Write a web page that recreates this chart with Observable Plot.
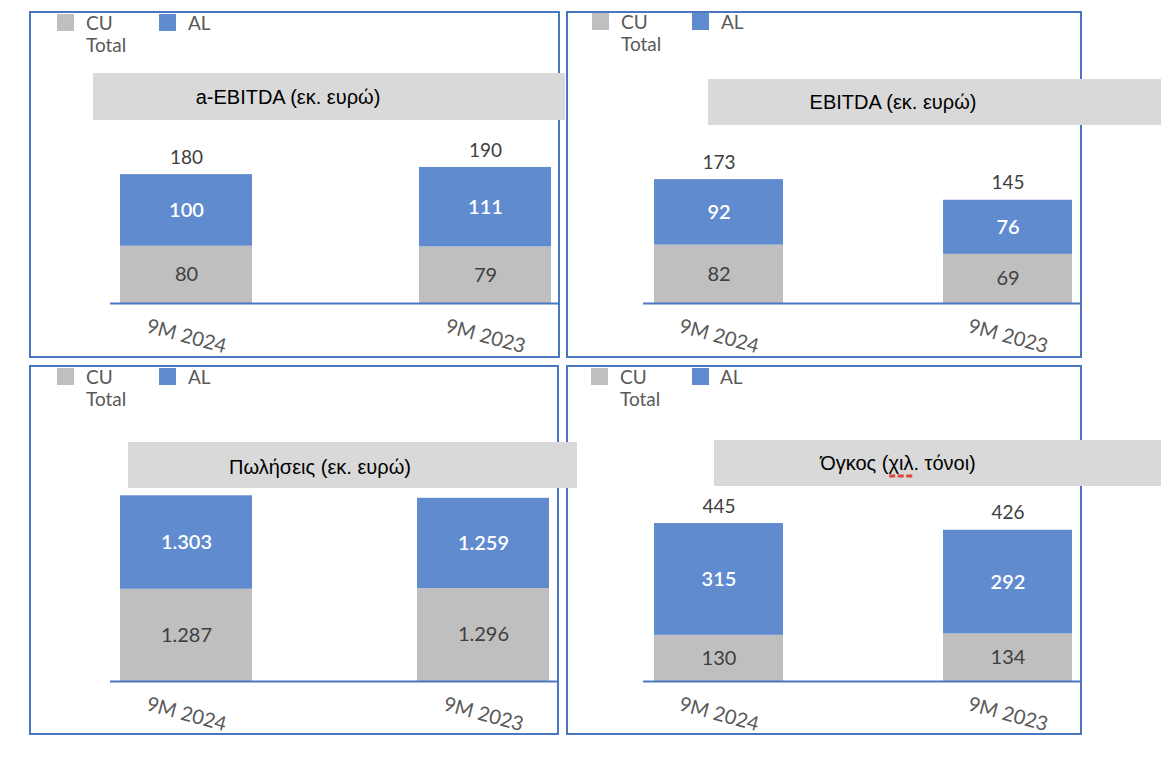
<!DOCTYPE html>
<html>
<head>
<meta charset="utf-8">
<script src="https://cdn.jsdelivr.net/npm/d3@7"></script>
<script src="https://cdn.jsdelivr.net/npm/@observablehq/plot@0.6"></script>
<style>
  html, body { margin: 0; padding: 0; background: #ffffff; }
  #page { position: relative; width: 1161px; height: 771px; overflow: hidden; background: #fff; }
  .frame { position: absolute; box-sizing: border-box; border: 2px solid #4a76c4; }
  .plotwrap { position: absolute; }
  .plotwrap svg { display: block; overflow: visible; }
  .titlebox { position: absolute; background: #d9d9d9; z-index: 5; }
  .titletext { position: absolute; font-family: "Liberation Sans", Arial, sans-serif; font-size: 20px; color: #000; white-space: nowrap; transform: translate(-50%, -50%); }
  .sq { position: absolute; width: 17px; height: 17px; z-index: 6; }
  .lg { position: absolute; font-family: Lato, "Open Sans", sans-serif; font-size: 19px; color: #595959; line-height: 22px; z-index: 6; }
  .squig { position: relative; display: inline-block; }
  .squig::after { content: ""; position: absolute; left: 1px; right: 1px; bottom: -3px; height: 0; border-bottom: 3px dashed #e0463c; }
</style>
</head>
<body>
<div id="page"></div>
<script>
// ---------- data ----------
const periods = ["9M 2024", "9M 2023"];
const series = ["CU", "AL"];
const seriesColors = ["#bfbfbf", "#608bcf"];

const aEbitdaCU = [80, 79];
const aEbitdaAL = [100, 111];
const aEbitdaTotal = [180, 190];

const ebitdaCU = [82, 69];
const ebitdaAL = [92, 76];
const ebitdaTotal = [173, 145];

const salesCU = [1287, 1296];
const salesAL = [1303, 1259];
const salesTotal = [2590, 2555];

const volumeCU = [130, 134];
const volumeAL = [315, 292];
const volumeTotal = [445, 426];

const titles = ["a-EBITDA (εκ. ευρώ)", "EBITDA (εκ. ευρώ)", "Πωλήσεις (εκ. ευρώ)", "Όγκος (χιλ. τόνοι)"];
const legendLabels = ["CU", "Total", "AL"];

// ---------- layout ----------
const fmt = d3.formatLocale({decimal: ",", thousands: ".", grouping: [3], currency: ["", "€"]}).format(",");
const axisColor = "#4a76c4";

const panels = [
  {cu: aEbitdaCU, al: aEbitdaAL, total: aEbitdaTotal, title: titles[0],
   box: {left: 29, top: 11, width: 531, height: 347}, axis: [110, 559], bars: [120, 552], pad: 0.558,
   base: 303, k: 0.716, ymax: 300,
   tbox: {left: 93, top: 73, width: 472, height: 47}, tcenter: [288, 97],
   lg: {sq1: 57, txt1: 86, sq2: 159, txt2: 188, sqTop: 14, txtTop: 12}},
  {cu: ebitdaCU, al: ebitdaAL, total: ebitdaTotal, title: titles[1],
   box: {left: 566, top: 11, width: 516, height: 347}, axis: [643, 1082], bars: [654, 1072], pad: 0.554,
   base: 303, k: 0.712, ymax: 300,
   tbox: {left: 708, top: 79, width: 460, height: 46}, tcenter: [893, 102],
   lg: {sq1: 592, txt1: 621, sq2: 692, txt2: 721, sqTop: 13, txtTop: 11}},
  {cu: salesCU, al: salesAL, total: salesTotal, title: titles[2],
   box: {left: 29, top: 365, width: 530, height: 370}, axis: [110, 558], bars: [120, 550], pad: 0.555,
   base: 681, k: 0.0717, ymax: 3000,
   tbox: {left: 128, top: 442, width: 449, height: 46}, tcenter: [320, 467],
   lg: {sq1: 57, txt1: 86, sq2: 159, txt2: 188, sqTop: 368, txtTop: 366}},
  {cu: volumeCU, al: volumeAL, total: volumeTotal, title: titles[3],
   box: {left: 566, top: 365, width: 516, height: 370}, axis: [643, 1082], bars: [654, 1072], pad: 0.554,
   base: 681, k: 0.355, ymax: 600,
   tbox: {left: 714, top: 440, width: 454, height: 46}, tcenter: [898, 463],
   lg: {sq1: 591, txt1: 620, sq2: 692, txt2: 720, sqTop: 368, txtTop: 366}}
];

const page = document.getElementById("page");

function el(cls, style, html) {
  const d = document.createElement("div");
  d.className = cls;
  Object.assign(d.style, style);
  if (html != null) d.innerHTML = html;
  page.appendChild(d);
  return d;
}

panels.forEach((p, idx) => {
  const L = p.box.left, T = p.box.top;
  const rows = [];
  periods.forEach((per, i) => {
    rows.push({period: per, series: "CU", y1: 0, y2: p.cu[i], value: p.cu[i]});
    rows.push({period: per, series: "AL", y1: p.cu[i], y2: p.cu[i] + p.al[i], value: p.al[i]});
  });
  const totals = periods.map((per, i) => ({period: per, top: p.cu[i] + p.al[i], value: p.total[i]}));

  const chart = Plot.plot({
    width: p.box.width,
    height: p.box.height,
    marginLeft: p.axis[0] - L,
    marginRight: L + p.box.width - p.axis[1],
    marginTop: 0,
    marginBottom: 0,
    x: {type: "band", domain: periods, range: [p.bars[0] - L, p.bars[1] - L], paddingInner: p.pad, paddingOuter: 0, axis: null},
    y: {domain: [0, p.ymax], range: [p.base - T, p.base - T - p.ymax * p.k], axis: null},
    color: {domain: series, range: seriesColors},
    style: {fontFamily: "Lato, 'Open Sans', sans-serif", background: "transparent", overflow: "visible"},
    marks: [
      Plot.barY(rows, {x: "period", y1: "y1", y2: "y2", fill: "series", inset: 0}),
      Plot.ruleY([0], {stroke: axisColor, strokeWidth: 2}),
      Plot.text(rows, {filter: d => d.series === "CU", x: "period", y: d => (d.y1 + d.y2) / 2,
        text: d => fmt(d.value), fill: "#404040", fontSize: 20}),
      Plot.text(rows, {filter: d => d.series === "AL", x: "period", y: d => (d.y1 + d.y2) / 2,
        text: d => fmt(d.value), fill: "#ffffff", fontSize: 20, fontWeight: 600}),
      Plot.text(totals, {x: "period", y: "top", dy: -17, text: d => fmt(d.value), fill: "#404040", fontSize: 19}),
      Plot.text(periods, {x: d => d, y: 0, dy: 33, rotate: 15, text: d => d, fill: "#595959", fontSize: 20})
    ]
  });
  const wrap = el("plotwrap", {left: L + "px", top: T + "px", width: p.box.width + "px", height: p.box.height + "px"});
  wrap.appendChild(chart);

  el("frame", {left: L + "px", top: T + "px", width: p.box.width + "px", height: p.box.height + "px"});

  // legend
  el("sq", {left: p.lg.sq1 + "px", top: p.lg.sqTop + "px", background: seriesColors[0]});
  el("lg", {left: p.lg.txt1 + "px", top: p.lg.txtTop + "px"}, legendLabels[0] + "<br>" + legendLabels[1]);
  el("sq", {left: p.lg.sq2 + "px", top: p.lg.sqTop + "px", background: seriesColors[1]});
  el("lg", {left: p.lg.txt2 + "px", top: p.lg.txtTop + "px"}, legendLabels[2]);

  // title box
  const tb = el("titlebox", {left: p.tbox.left + "px", top: p.tbox.top + "px", width: p.tbox.width + "px", height: p.tbox.height + "px"});
  const tt = document.createElement("div");
  tt.className = "titletext";
  tt.style.left = (p.tcenter[0] - p.tbox.left) + "px";
  tt.style.top = (p.tcenter[1] - p.tbox.top) + "px";
  if (idx === 3) {
    const parts = p.title.split("χιλ");
    tt.innerHTML = parts[0] + '<span class="squig">χιλ</span>' + parts[1];
  } else {
    tt.textContent = p.title;
  }
  tb.appendChild(tt);
});
</script>
</body>
</html>
